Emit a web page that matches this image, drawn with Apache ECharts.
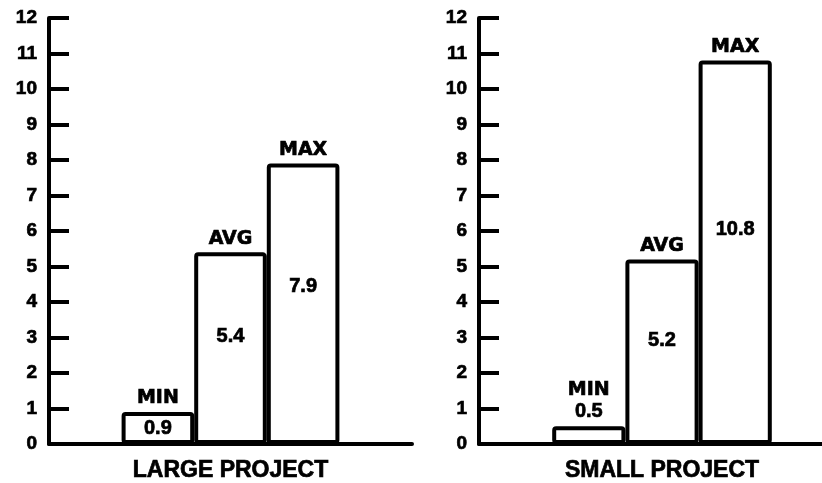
<!DOCTYPE html>
<html>
<head>
<meta charset="utf-8">
<script src="https://cdn.jsdelivr.net/npm/echarts@6/dist/echarts.min.js"></script>
<style>html,body{margin:0;padding:0;background:#fff;}#c{width:822px;height:483px;}</style>
</head>
<body>
<div id="c"></div>
<script>
// ---- data ----
const categories = ['MIN', 'AVG', 'MAX'];
const largeValues = [0.9, 5.4, 7.9];
const smallValues = [0.5, 5.2, 10.8];
const panelNames = ['LARGE PROJECT', 'SMALL PROJECT'];
const yMin = 0, yMax = 12, yStep = 1;

// ---- build ----
const chart = echarts.init(document.getElementById('c'), null, {renderer: 'canvas'});
const INK = '#000';
const numFont = '"Liberation Sans", Arial, sans-serif';
const wordFont = '"DejaVu Sans", sans-serif';
const heavy = {textBorderColor: INK, textBorderWidth: 0.7};
const pad = v => [null].concat(v, [null]);
const cats = [''].concat(categories, ['']);

const grids = [
  {left: 49, top: 18, width: 363, height: 426, outerBoundsMode: 'none'},
  {left: 479, top: 18, width: 366, height: 426, outerBoundsMode: 'none'}
];

function panelSeries(idx, values, valueOnTop) {
  const main = {
    type: 'bar', xAxisIndex: idx, yAxisIndex: idx,
    barWidth: '100%', barGap: '-100%', barCategoryGap: 0,
    itemStyle: {color: '#fff', borderColor: INK, borderWidth: 4, borderRadius: 2},
    label: {
      show: true, position: 'top', distance: 3,
      formatter: p => (valueOnTop(p.dataIndex) ? '{n|' + p.name + '}\n{v|' + p.value + '}' : '{n|' + p.name + '}'),
      rich: {
        n: Object.assign({fontFamily: wordFont, fontWeight: 'bold', fontSize: 19, color: INK, lineHeight: 21}, heavy),
        v: Object.assign({fontFamily: numFont, fontWeight: 'bold', fontSize: 20, color: INK, lineHeight: 23}, heavy)
      }
    },
    data: pad(values),
    z: 2
  };
  const inner = {
    type: 'bar', xAxisIndex: idx, yAxisIndex: idx,
    barWidth: '100%', barGap: '-100%', barCategoryGap: 0,
    itemStyle: {color: 'transparent', borderWidth: 0},
    label: Object.assign({
      show: true,
      position: ['50%', '44%'], align: 'center', verticalAlign: 'middle',
      fontFamily: numFont, fontWeight: 'bold', fontSize: 20, color: INK,
      formatter: p => (valueOnTop(p.dataIndex) ? '' : String(p.value))
    }, heavy),
    data: pad(values).map(v => {
      if (v == null) return null;
      // short bar: centre the value inside
      if (v < 2) return {value: v, label: {position: 'inside'}};
      return v;
    }),
    z: 3
  };
  return [main, inner];
}

const option = {
  animation: false,
  backgroundColor: '#fff',
  grid: grids,
  xAxis: grids.map((g, i) => ({
    type: 'category', gridIndex: i, data: cats,
    name: panelNames[i], nameLocation: 'middle', nameGap: 15,
    nameTextStyle: Object.assign({fontFamily: numFont, fontWeight: 'bold', fontSize: 23, color: INK, verticalAlign: 'top'}, heavy),
    axisLine: {show: true, lineStyle: {color: INK, width: 4}},
    axisTick: {show: false}, axisLabel: {show: false}, splitLine: {show: false}
  })),
  yAxis: grids.map((g, i) => ({
    type: 'value', gridIndex: i, min: yMin, max: yMax, interval: yStep,
    axisLine: {show: true, lineStyle: {color: INK, width: 4}},
    axisTick: {show: true, inside: true, length: 20, lineStyle: {color: INK, width: 4}},
    axisLabel: Object.assign({fontFamily: numFont, fontWeight: 'bold', fontSize: 19, color: INK, margin: 12}, heavy),
    splitLine: {show: false}
  })),
  series: [].concat(
    panelSeries(0, largeValues, () => false),
    panelSeries(1, smallValues, i => smallValues[i - 1] != null && smallValues[i - 1] < 1)
  )
};
chart.setOption(option);
</script>
</body>
</html>
